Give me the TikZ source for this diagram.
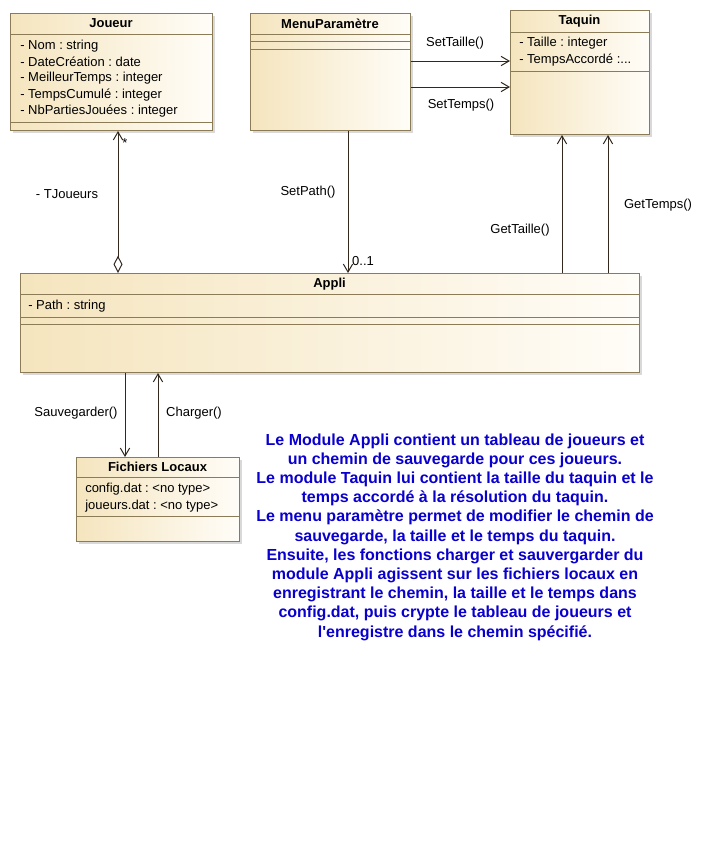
\documentclass[tikz,border=0pt]{standalone}
\usepackage{fontspec}
\setmainfont{Liberation Sans}
\usetikzlibrary{arrows.meta,shadows,calc}
\definecolor{bord}{RGB}{139,123,86}
\definecolor{fillL}{RGB}{245,229,190}
\definecolor{fillR}{RGB}{255,253,248}
\definecolor{ink}{RGB}{50,40,30}
\definecolor{notecol}{RGB}{10,0,205}
\frenchspacing
\begin{document}
\begin{tikzpicture}[x=0.75pt,y=-0.75pt,
  umlbox/.style={draw=bord, line width=0.75pt, left color=fillL, right color=fillR,
    anchor=north west, inner sep=0pt,
    drop shadow={shadow xshift=1.5pt,shadow yshift=-1.5pt,opacity=0.3,fill=black!50}},
  div/.style={draw=bord, line width=0.75pt},
  ttl/.style={inner sep=0pt, font=\bfseries\fontsize{9.75}{11}\selectfont},
  attr/.style={inner sep=0pt, anchor=west, font=\fontsize{9.75}{11}\selectfont},
  lbl/.style={inner sep=0pt, font=\fontsize{9.75}{11}\selectfont},
  conn/.style={draw=ink, line width=0.75pt},
  barb/.style={conn, -{Straight Barb[length=6pt,width=7pt]}},
  notetext/.style={text=notecol, align=center, inner sep=0pt,
    font=\bfseries\fontsize{12}{14.4}\selectfont}
]
\useasboundingbox (0,0) rectangle (711,857);

% Boxes
\node[umlbox, minimum width=151.5pt, minimum height=87.75pt] (J) at (10,13) {};
\node[umlbox, minimum width=120pt, minimum height=87.75pt] (M) at (250,13) {};
\node[umlbox, minimum width=104.25pt, minimum height=93pt] (T) at (510,10) {};
\node[umlbox, minimum width=464.25pt, minimum height=74.25pt] (A) at (20,273) {};
\node[umlbox, minimum width=122.25pt, minimum height=63pt] (F) at (76,457) {};

% Dividers
\draw[div] (10,34) -- (212,34);
\draw[div] (10,122) -- (212,122);
\draw[div] (250,34) -- (410,34);
\draw[div] (250,41) -- (410,41);
\draw[div] (250,49) -- (410,49);
\draw[div] (510,32) -- (649,32);
\draw[div] (510,71) -- (649,71);
\draw[div] (20,294) -- (639,294);
\draw[div] (20,317) -- (639,317);
\draw[div] (20,324) -- (639,324);
\draw[div] (76,477) -- (239,477);
\draw[div] (76,516) -- (239,516);

% Joueur
\node[ttl] (Jt) at (111,23.5) {Joueur};
\node[attr] (J1) at (20,46) {- Nom : string};
\node[attr] (J2) at (20,62) {- DateCréation : date};
\node[attr] (J3) at (20,78.5) {- MeilleurTemps : integer};
\node[attr] (J4) at (20,95) {- TempsCumulé : integer};
\node[attr] (J5) at (20,111) {- NbPartiesJouées : integer};

% Menu
\node[ttl] (Mt) at (330,23.5) {MenuParamètre};

% Taquin
\node[ttl] (Tt) at (579.5,21) {Taquin};
\node[attr] (T1) at (519,43) {- Taille : integer};
\node[attr] (T2) at (519,60) {- TempsAccordé :...};

% Appli
\node[ttl] (At) at (329.5,284) {Appli};
\node[attr] (A1) at (28,306) {- Path : string};

% Fichiers
\node[ttl] (Ft) at (157.5,467) {Fichiers Locaux};
\node[attr] (F1) at (85,489) {config.dat : <no type>};
\node[attr] (F2) at (85,506) {joueurs.dat : <no type>};

% Connectors
\draw[conn, {Straight Barb[length=6pt,width=7pt]}-{Diamond[open,length=13pt,width=6.75pt]}]
  ($(J.south west)+(108,0)$) -- ($(A.north west)+(98,0)$);
\draw[barb] ($(M.south west)+(98,0)$) -- ($(A.north west)+(328,0)$);
\draw[barb] ($(M.north east)+(0,48)$) -- ($(T.north west)+(0,51)$);
\draw[barb] ($(M.north east)+(0,74)$) -- ($(T.north west)+(0,77)$);
\draw[barb] ($(A.north west)+(542,0)$) -- ($(T.south west)+(52,0)$);
\draw[barb] ($(A.north west)+(588,0)$) -- ($(T.south west)+(98,0)$);
\draw[barb] ($(A.south west)+(105,0)$) -- ($(F.north west)+(49,0)$);
\draw[barb] ($(F.north west)+(82,0)$) -- ($(A.south west)+(138,0)$);

% Labels
\node[lbl] (l1) at (455,43) {SetTaille()};
\node[lbl] (l2) at (461,105) {SetTemps()};
\node[lbl] (l3) at (67,194) {- TJoueurs};
\node[lbl] (l4) at (125,143) {*};
\node[lbl] (l5) at (308,192) {SetPath()};
\node[lbl] (l6) at (363,261) {0..1};
\node[lbl] (l7) at (520,230) {GetTaille()};
\node[lbl] (l8) at (658,205) {GetTemps()};
\node[lbl] (l9) at (76,413) {Sauvegarder()};
\node[lbl] (l10) at (194,413) {Charger()};

% Note
\node[notetext] (note) at (455,537) {Le Module Appli contient un tableau de joueurs et\\
un chemin de sauvegarde pour ces joueurs.\\
Le module Taquin lui contient la taille du taquin et le\\
temps accordé à la résolution du taquin.\\
Le menu paramètre permet de modifier le chemin de\\
sauvegarde, la taille et le temps du taquin.\\
Ensuite, les fonctions charger et sauvergarder du\\
module Appli agissent sur les fichiers locaux en\\
enregistrant le chemin, la taille et le temps dans\\
config.dat, puis crypte le tableau de joueurs et\\
l\textquotesingle enregistre dans le chemin spécifié.};
\end{tikzpicture}
\end{document}
